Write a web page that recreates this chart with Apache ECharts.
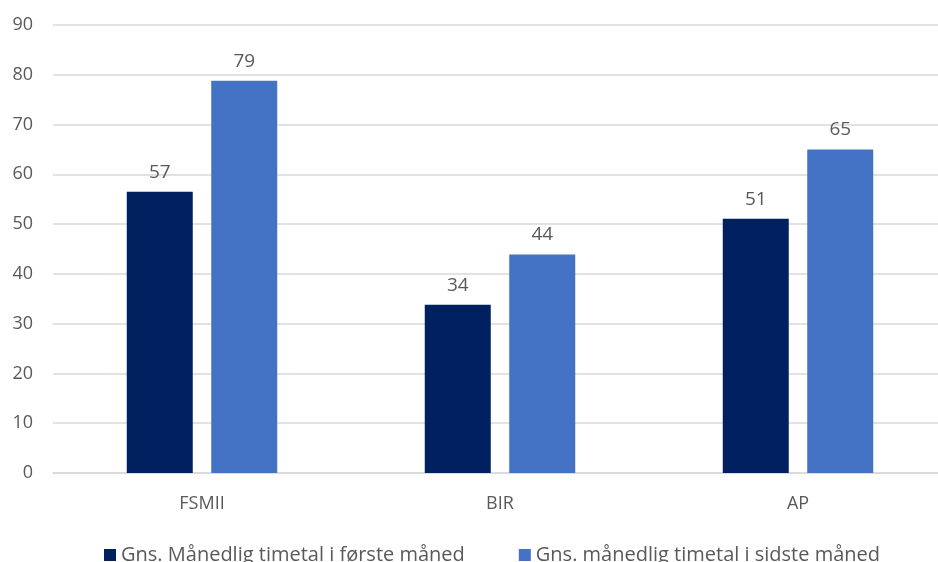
<!DOCTYPE html>
<html>
<head>
<meta charset="utf-8">
<script src="https://cdn.jsdelivr.net/npm/echarts@6/dist/echarts.min.js"></script>
<style>
html,body{margin:0;padding:0;background:#fff;overflow:hidden;width:938px;height:562px;}
#chart{width:947px;height:562px;}
</style>
</head>
<body>
<div id="chart"></div>
<script>
var categories = ['FSMII', 'BIR', 'AP'];
var seriesNames = ['Gns. Månedlig timetal i første måned', 'Gns. månedlig timetal i sidste måned'];
var firstMonth = [56.5, 33.8, 51.1];
var lastMonth = [78.8, 43.9, 65.0];
var yTicks = { min: 0, max: 90, interval: 10 };

var FONT = "'Open Sans', sans-serif";
var TXT = '#595959';

var chart = echarts.init(document.getElementById('chart'), null, { renderer: 'canvas' });
function lbl() {
  return {
    show: true, position: 'top', distance: 10,
    color: TXT, fontSize: 19, fontFamily: FONT,
    formatter: function (p) { return Math.round(p.value); }
  };
}
chart.setOption({
  animation: false,
  backgroundColor: '#ffffff',
  grid: { left: 53, right: 0, top: 25, bottom: 89, containLabel: false },
  legend: {
    bottom: -8, left: 99,
    itemWidth: 12, itemHeight: 12, itemGap: 54,
    icon: 'rect',
    textStyle: { color: TXT, fontSize: 20, fontFamily: FONT },
    data: seriesNames
  },
  xAxis: {
    type: 'category', data: categories,
    axisLine: { lineStyle: { color: '#d9d9d9', width: 1.5 } },
    axisTick: { show: false },
    axisLabel: { color: TXT, fontSize: 18, fontFamily: FONT, margin: 22 }
  },
  yAxis: {
    type: 'value', min: yTicks.min, max: yTicks.max, interval: yTicks.interval,
    axisLine: { show: false }, axisTick: { show: false },
    axisLabel: { color: TXT, fontSize: 18, fontFamily: FONT, margin: 20 },
    splitLine: { lineStyle: { color: '#d9d9d9', width: 1.5 } }
  },
  series: [
    { name: seriesNames[0], type: 'bar', data: firstMonth, barWidth: 66, barGap: '28%',
      itemStyle: { color: '#002060' }, label: lbl() },
    { name: seriesNames[1], type: 'bar', data: lastMonth, barWidth: 66,
      itemStyle: { color: '#4472c4' }, label: lbl() }
  ]
});
</script>
</body>
</html>
